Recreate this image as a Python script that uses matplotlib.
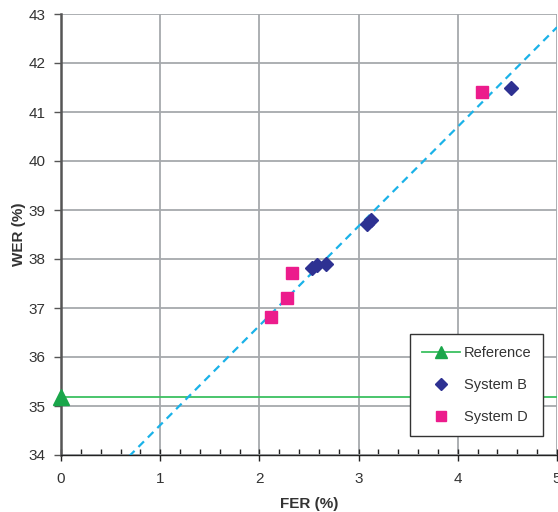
import numpy as np
import matplotlib
matplotlib.use("Agg")
import matplotlib.pyplot as plt
from matplotlib.ticker import MultipleLocator
from matplotlib.lines import Line2D

plt.rcParams['font.family'] = ['Liberation Sans', 'DejaVu Sans']

# Data
ref_x = [0.0]
ref_y = [35.18]
sysB_x = [2.53, 2.58, 2.67, 3.08, 3.12, 4.54]
sysB_y = [37.82, 37.88, 37.90, 38.72, 38.80, 41.50]
sysD_x = [2.12, 2.28, 2.33, 4.24]
sysD_y = [36.82, 37.20, 37.72, 41.40]
trend_slope = 2.03
trend_intercept = 32.58
x_ticks = [0, 1, 2, 3, 4, 5]
y_ticks = [34, 35, 36, 37, 38, 39, 40, 41, 42, 43]

fig = plt.figure(figsize=(5.58, 5.12), dpi=100)
ax = fig.add_axes([61/558, 57/512, (557-61)/558, (455-14)/512])

ax.set_xlim(0, 5)
ax.set_ylim(34, 43)
ax.set_xticks(x_ticks)
ax.set_yticks(y_ticks)
ax.xaxis.set_minor_locator(MultipleLocator(0.2))
ax.grid(True, which='major', color='#a6a9ad', linewidth=1.3)
ax.set_axisbelow(True)

for s in ['top', 'right']:
    ax.spines[s].set_visible(False)
ax.spines['left'].set_color('#555555')
ax.spines['left'].set_linewidth(1.8)
ax.spines['bottom'].set_color('#222222')
ax.spines['bottom'].set_linewidth(1.0)

ax.tick_params(axis='x', which='major', direction='inout', length=8, width=1, color='#222222',
               labelsize=11, labelcolor='#333333', pad=8)
ax.tick_params(axis='x', which='minor', direction='in', length=4, width=1, color='#222222')
ax.tick_params(axis='y', which='major', direction='out', length=5, width=1, color='#555555',
               labelsize=11, labelcolor='#333333', pad=6)
ax.tick_params(axis='y', which='minor', left=False)

# Reference horizontal line
ax.axhline(ref_y[0], color='#3cc060', linewidth=1.3, zorder=2)
ax.plot(ref_x, ref_y, marker='^', color='#1aa64a', markersize=11, linestyle='none',
        clip_on=False, zorder=5)

# Trend line
xs = np.array([0, 5])
ax.plot(xs, trend_slope * xs + trend_intercept, linestyle=(0, (3.5, 2.5)), color='#1ab2e8',
        linewidth=1.6, zorder=3)

ax.plot(sysB_x, sysB_y, marker='D', color='#2e3192', markersize=7, linestyle='none', zorder=4)
ax.plot(sysD_x, sysD_y, marker='s', color='#ec1c8c', markersize=8, linestyle='none', zorder=4)

ax.set_xlabel('FER (%)', fontsize=11, fontweight='bold', color='#333333', labelpad=8)
ax.set_ylabel('WER (%)', fontsize=11, fontweight='bold', color='#333333', labelpad=2)

# Legend
handles = [
    Line2D([], [], color='#3cc060', marker='^', markerfacecolor='#1aa64a', markeredgecolor='#1aa64a', markersize=8, linewidth=1.3),
    Line2D([], [], color='none', marker='D', markerfacecolor='#2e3192', markeredgecolor='#2e3192', markersize=6),
    Line2D([], [], color='none', marker='s', markerfacecolor='#ec1c8c', markeredgecolor='#ec1c8c', markersize=7),
]
leg = ax.legend(handles, ['Reference', 'System B', 'System D'], loc='upper left',
                bbox_to_anchor=((410-61)/496, (455-334)/441), frameon=True, fancybox=False,
                edgecolor='#333333', framealpha=1, fontsize=10.5, labelspacing=1.25,
                handlelength=2.6, borderpad=0.8, handletextpad=0.3, borderaxespad=0)
leg.get_frame().set_linewidth(1.0)
for t in leg.get_texts():
    t.set_color('#333333')

fig.savefig('out.png', dpi=100)
